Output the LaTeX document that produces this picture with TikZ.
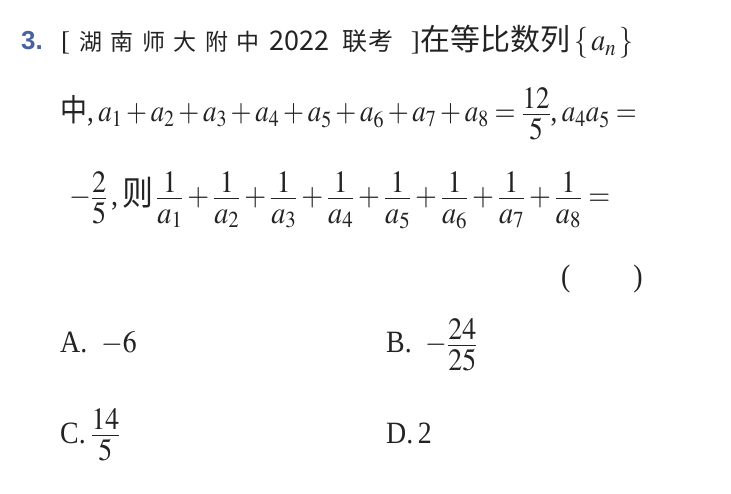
\documentclass[tikz,border=0pt]{standalone}
\usepackage{amsmath}
\usepackage{mathptmx}
\usepackage{fontspec}
\setmainfont{Liberation Serif}
\newfontfamily\cjk{Noto Sans CJK SC}
\newfontfamily\cjkwide[LetterSpace=37]{Noto Sans CJK SC}
\newfontfamily\cjkmid[LetterSpace=5]{Noto Sans CJK SC}
\newfontfamily\numfont{Liberation Sans}

\definecolor{ink}{RGB}{35,35,35}
\definecolor{numblue}{RGB}{72,98,158}

% Fraction with numerator and denominator set close to the bar
\newcommand{\frc}[2]{\genfrac{}{}{}{0}{\raisebox{-7pt}{$#1$}}{\raisebox{4pt}{$#2$}}}

\begin{document}
\begin{tikzpicture}[x = 1pt, y = 1pt, every node/.style = {inner sep = 0pt, anchor = base west, text = ink}]

	% Definitions
	
	\def\H{493}		% Height of page
	\def\fs{\fontsize{31}{31}\selectfont}
	\def\hs{\fontsize{27}{27}\selectfont}
	
	\useasboundingbox (0, 0) rectangle (731, \H);
	
	% Draw heading line
	
	\node [font = \numfont\bfseries\fontsize{26}{26}\selectfont, text = numblue] (num) at (21, \H - 50) {3.};
	\node [font = \hs] (src) at (61, \H - 51) {[\hspace{9pt}{\cjkwide\fontsize{23}{23}\selectfont 湖南师大附中}\hspace{10pt}{\cjk 2022}\hspace{13pt}{\cjkmid\fontsize{25}{25}\selectfont 联考}\hspace{17pt}]\hspace{17pt}};
	\node [font = \hs] (head) at (src.base east) {{\cjk\fontsize{30}{30}\selectfont 在等比数列}\hspace{4pt}{\fs\scalebox{0.9}[1]{$\{\,a_n\,\}$}}};
	
	% Draw condition lines
	
	\node [font = \fs] (sum) at (60, \H - 122) {\scalebox{0.87}[1]{{\cjk 中},\,$a_1+a_2+a_3+a_4+a_5+a_6+a_7+a_8=\frc{12}{5}$,\,$a_4a_5=$}};
	\node [font = \fs] (ask) at (69, \H - 206) {\scalebox{0.91}[1]{$-\frc{2}{5}$\hspace{4pt},\hspace{5pt}{\cjk\fontsize{34}{34}\selectfont 则}\hspace{3pt}$\frc{1}{a_1}+\frc{1}{a_2}+\frc{1}{a_3}+\frc{1}{a_4}+\frc{1}{a_5}+\frc{1}{a_6}+\frc{1}{a_7}+\frc{1}{a_8}=$}};
	\node [font = \fs] (blank) at (561, \H - 287) {\scalebox{0.9}[1]{(\hspace{70pt})}};
	
	% Draw options
	
	\foreach \n/\x/\y/\s in {A/60/353/{A.\ \ $-6$}, B/386/353/{B.\ \ $-\frc{24}{25}$}, C/60/443/{C.\,$\frc{14}{5}$}, D/386/443/{D.\,2}}
		\node [font = \fs] (opt\n) at (\x, \H - \y) {\scalebox{0.9}[1]{\s}};
	
\end{tikzpicture}
\end{document}
